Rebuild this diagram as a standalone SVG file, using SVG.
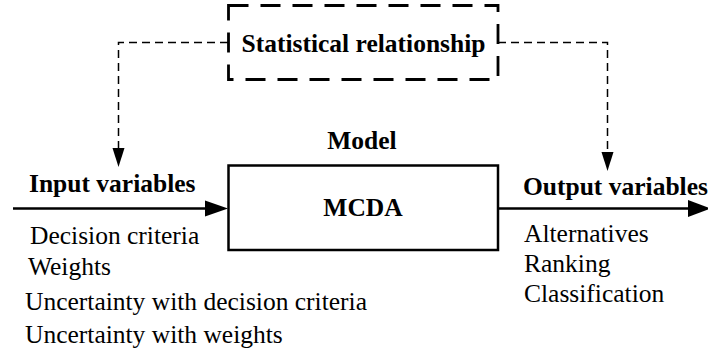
<svg xmlns="http://www.w3.org/2000/svg" width="708" height="354" viewBox="0 0 708 354">
  <style>
    text { font-family: "Liberation Serif", "Times New Roman", serif; font-size: 25.5px; fill: #000; }
    .b { font-weight: bold; }
    .link { fill: none; stroke: #000; stroke-width: 1.5; stroke-dasharray: 8 5; }
    .head { fill: #000; }
  </style>

  <g id="connectors">
    <!-- dashed links from the statistical relationship box down to both variable sets -->
    <path class="link" d="M228,42.5 H118.5 V150"/>
    <path class="link" d="M498,42.5 H607.5 V153"/>
    <path class="head" d="M112.5,148 L124.5,148 L118.5,167 Z"/>
    <path class="head" d="M601.5,152 L613.5,152 L607.5,171 Z"/>
    <!-- solid input and output flows -->
    <line x1="13" y1="208.5" x2="206" y2="208.5" stroke="#000" stroke-width="2.3"/>
    <path class="head" d="M205,200.5 L228,208.5 L205,216.5 Z"/>
    <line x1="498" y1="208.5" x2="690" y2="208.5" stroke="#000" stroke-width="2.3"/>
    <path class="head" d="M688,200 L711,208.5 L688,217 Z"/>
  </g>

  <g id="statistical-relationship">
    <rect x="228.5" y="5.5" width="269.5" height="74" fill="none" stroke="#000" stroke-width="2.8" stroke-dasharray="20 12"/>
    <text class="b" x="363.5" y="51.5" text-anchor="middle">Statistical relationship</text>
  </g>

  <g id="model">
    <text class="b" x="362" y="148.5" text-anchor="middle">Model</text>
    <rect x="228.5" y="165.5" width="269.5" height="84.5" fill="#fff" stroke="#000" stroke-width="2.5"/>
    <text class="b" x="363" y="216" text-anchor="middle">MCDA</text>
  </g>

  <g id="input-variables">
    <text class="b" x="29" y="191.5">Input variables</text>
    <text x="30" y="243.5">Decision criteria</text>
    <text x="28" y="275">Weights</text>
    <text x="25" y="309.5">Uncertainty with decision criteria</text>
    <text x="25" y="343">Uncertainty with weights</text>
  </g>

  <g id="output-variables">
    <text class="b" x="523" y="195">Output variables</text>
    <text x="524" y="241.5">Alternatives</text>
    <text x="524" y="271.5">Ranking</text>
    <text x="524" y="301.5">Classification</text>
  </g>
</svg>
